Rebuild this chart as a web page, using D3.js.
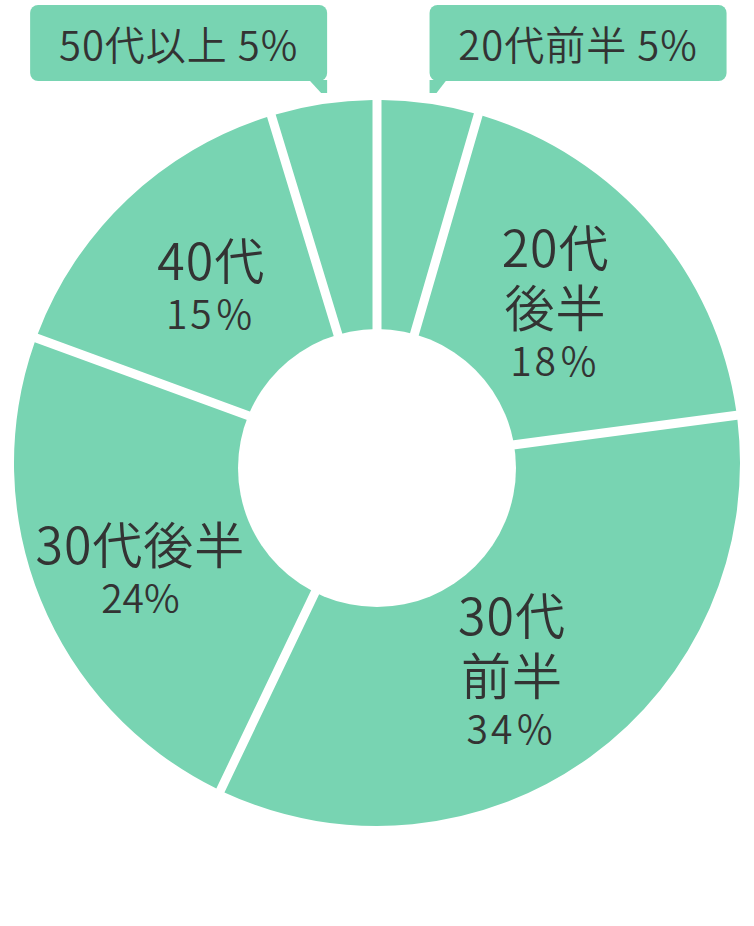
<!DOCTYPE html>
<html>
<head>
<meta charset="utf-8">
<script src="https://cdn.jsdelivr.net/npm/d3@7"></script>
<style>
  html, body { margin: 0; padding: 0; background: #fff; }
  text { font-family: "Noto Sans CJK JP", "Noto Sans", sans-serif; fill: #333; font-weight: 350; }
</style>
</head>
<body>
<script>
// age groups and their shares
const ageGroups = ["20代前半", "20代後半", "30代前半", "30代後半", "40代", "50代以上"];
const shares = [4.5, 18.4, 34.2, 23.5, 14.7, 4.7];
const pctLabels = ["5%", "18％", "34％", "24%", "15％", "5%"];
// how each inside label is broken into lines (null = shown in a callout)
const nameLines = [null, ["20代", "後半"], ["30代", "前半"], ["30代後半"], ["40代"], null];

const width = 754, height = 926;
const cx = 377, cy = 463;
const outerR = 363, holeR = 139;
const green = "#78d4b2";

// small nudges for the inside labels, from the arc centroid
const labelNudge = [[0, 0], [-11, 2], [-12, 5], [-5, 12], [6, 4], [0, 0]];

const svg = d3.select("body").append("svg")
    .attr("width", width)
    .attr("height", height);

const pie = d3.pie().sort(null).value(d => d.value);
const arcs = pie(ageGroups.map((g, i) => ({name: g, value: shares[i], i: i})));

const arc = d3.arc()
    .innerRadius(120)
    .outerRadius(outerR)
    .padAngle(9 / outerR)
    .padRadius(outerR);

const g = svg.append("g").attr("transform", `translate(${cx},${cy})`);

g.selectAll("path.slice")
  .data(arcs)
  .join("path")
    .attr("class", "slice")
    .attr("d", arc)
    .attr("fill", green);

// the hole sits a little lower than the ring centre in the original
svg.append("circle")
    .attr("cx", cx)
    .attr("cy", cy + 5)
    .attr("r", holeR)
    .attr("fill", "#fff");

// inside labels, one text element each with a tspan per line
const labelArc = d3.arc().innerRadius(250).outerRadius(250);
const bigSize = 50, pctSize = 39;

arcs.forEach(function(a) {
  let lines = nameLines[a.data.i];
  if (!lines) return;
  let c = labelArc.centroid(a);
  let nx = cx + c[0] + labelNudge[a.data.i][0];
  let ny = cy + c[1] + labelNudge[a.data.i][1];
  // line centres: 60 between name lines, 54 to the percentage
  let offs = lines.map((l, k) => k * 60);
  offs.push(offs[offs.length - 1] + 54);
  let mid = (offs[0] + offs[offs.length - 1]) / 2;
  let t = svg.append("text")
      .attr("class", "label")
      .attr("text-anchor", "middle")
      .attr("dominant-baseline", "central");
  lines.forEach(function(l, k) {
    t.append("tspan")
      .attr("x", nx)
      .attr("y", ny + offs[k] - mid)
      .style("font-size", bigSize + "px")
      .style("letter-spacing", "1px")
      .text(l);
  });
  t.append("tspan")
    .attr("x", nx)
    .attr("y", ny + offs[offs.length - 1] - mid)
    .style("font-size", pctSize + "px")
    .style("letter-spacing", pctLabels[a.data.i].indexOf("％") >= 0 ? "3px" : "0px")
    .text(pctLabels[a.data.i]);
});

// callouts for the two thin slices
const boxW = 297, boxH = 76, boxTop = 5;
const tipArc = d3.arc().innerRadius(outerR + 10).outerRadius(outerR + 10);

arcs.forEach(function(a) {
  if (nameLines[a.data.i]) return;
  let c = tipArc.centroid(a);
  let tipX = cx + c[0];
  let onRight = c[0] > 0;
  let edge = onRight ? tipX : tipX + 5;
  let bx = onRight ? edge : edge - boxW;
  let by = boxTop, bb = boxTop + boxH;
  let co = svg.append("g").attr("class", "callout");
  co.append("rect")
    .attr("x", bx).attr("y", by)
    .attr("width", boxW).attr("height", boxH)
    .attr("rx", 8)
    .attr("fill", green);
  let tail = onRight
    ? [[edge, bb - 1], [edge, bb + 12], [edge + 7, bb + 12], [edge + 17, bb - 1]]
    : [[edge - 18, bb - 1], [edge - 6, bb + 12], [edge, bb + 12], [edge, bb - 1]];
  co.append("path")
    .attr("d", d3.line()(tail) + "Z")
    .attr("fill", green);
  co.append("text")
    .attr("x", bx + boxW / 2)
    .attr("y", by + boxH / 2)
    .attr("text-anchor", "middle")
    .attr("dominant-baseline", "central")
    .style("font-size", "40px")
    .style("letter-spacing", "1px")
    .text(a.data.name + " " + pctLabels[a.data.i]);
});
</script>
</body>
</html>
